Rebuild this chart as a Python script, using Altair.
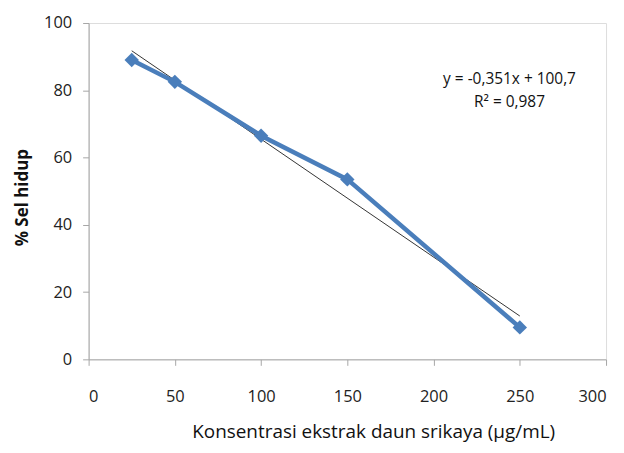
import altair as alt
import pandas as pd

konsentrasi = [25, 50, 100, 150, 250]
sel_hidup = [89, 82.5, 66.5, 53.5, 9.5]
x_ticks = [0, 50, 100, 150, 200, 250, 300]
y_ticks = [0, 20, 40, 60, 80, 100]
eq_lines = ["y = -0,351x + 100,7", "R\u00b2 = 0,987"]

df = pd.DataFrame({"x": konsentrasi, "y": sel_hidup})

FONT = "Open Sans"
BLUE = "#4A7EBB"

x_enc = alt.X("x:Q", scale=alt.Scale(domain=[0, 300], nice=False),
              axis=alt.Axis(values=x_ticks, title="Konsentrasi  ekstrak daun srikaya (\u03bcg/mL)",
                            grid=False, domainColor="#a6a6a6", tickColor="#a6a6a6",
                            tickSize=6, labelPadding=23, labelFontSize=16.5, labelFont=FONT,
                            labelColor="#222222", titleFont=FONT, titleFontSize=19,
                            titleFontWeight="normal", titleColor="#111111", titlePadding=18,
                            titleX=286, titleAlign="center"))
y_enc = alt.Y("y:Q", scale=alt.Scale(domain=[0, 100], nice=False),
              axis=alt.Axis(values=y_ticks, title="% Sel hidup", grid=False,
                            domainColor="#a6a6a6", tickColor="#a6a6a6", tickSize=6,
                            labelPadding=11, labelFontSize=16.5, labelFont=FONT,
                            labelColor="#222222", titleFont=FONT, titleFontSize=17,
                            titleFontWeight="bold", titleColor="#111111", titlePadding=12,
                            titleY=175))

base = alt.Chart(df)

data_line = base.mark_line(color=BLUE, strokeWidth=4.5).encode(x=x_enc, y=y_enc)
points = base.mark_point(shape="diamond", filled=True, color=BLUE, size=210, opacity=1).encode(x="x:Q", y="y:Q")
trend = base.transform_regression("x", "y").mark_line(color="#333333", strokeWidth=1).encode(x="x:Q", y="y:Q")

eq_df = pd.DataFrame({"t": [eq_lines[0]]})
r2_df = pd.DataFrame({"t": [eq_lines[1]]})
eq_text = alt.Chart(eq_df).mark_text(font=FONT, fontSize=15.5, color="#111111", align="center", baseline="middle").encode(
    text="t:N", x=alt.value(423), y=alt.value(56))
r2_text = alt.Chart(r2_df).mark_text(font=FONT, fontSize=15.5, color="#111111", align="center", baseline="middle").encode(
    text="t:N", x=alt.value(423), y=alt.value(79))

chart = alt.layer(trend, data_line, points, eq_text, r2_text).properties(
    width=520, height=338,
    autosize=alt.AutoSizeParams(type="none"),
    padding={"left": 81, "top": 14, "right": 10, "bottom": 86},
).configure_view(stroke=None).configure(background="white")

chart.save("out.html", embed_options={"renderer": "svg", "actions": False})
